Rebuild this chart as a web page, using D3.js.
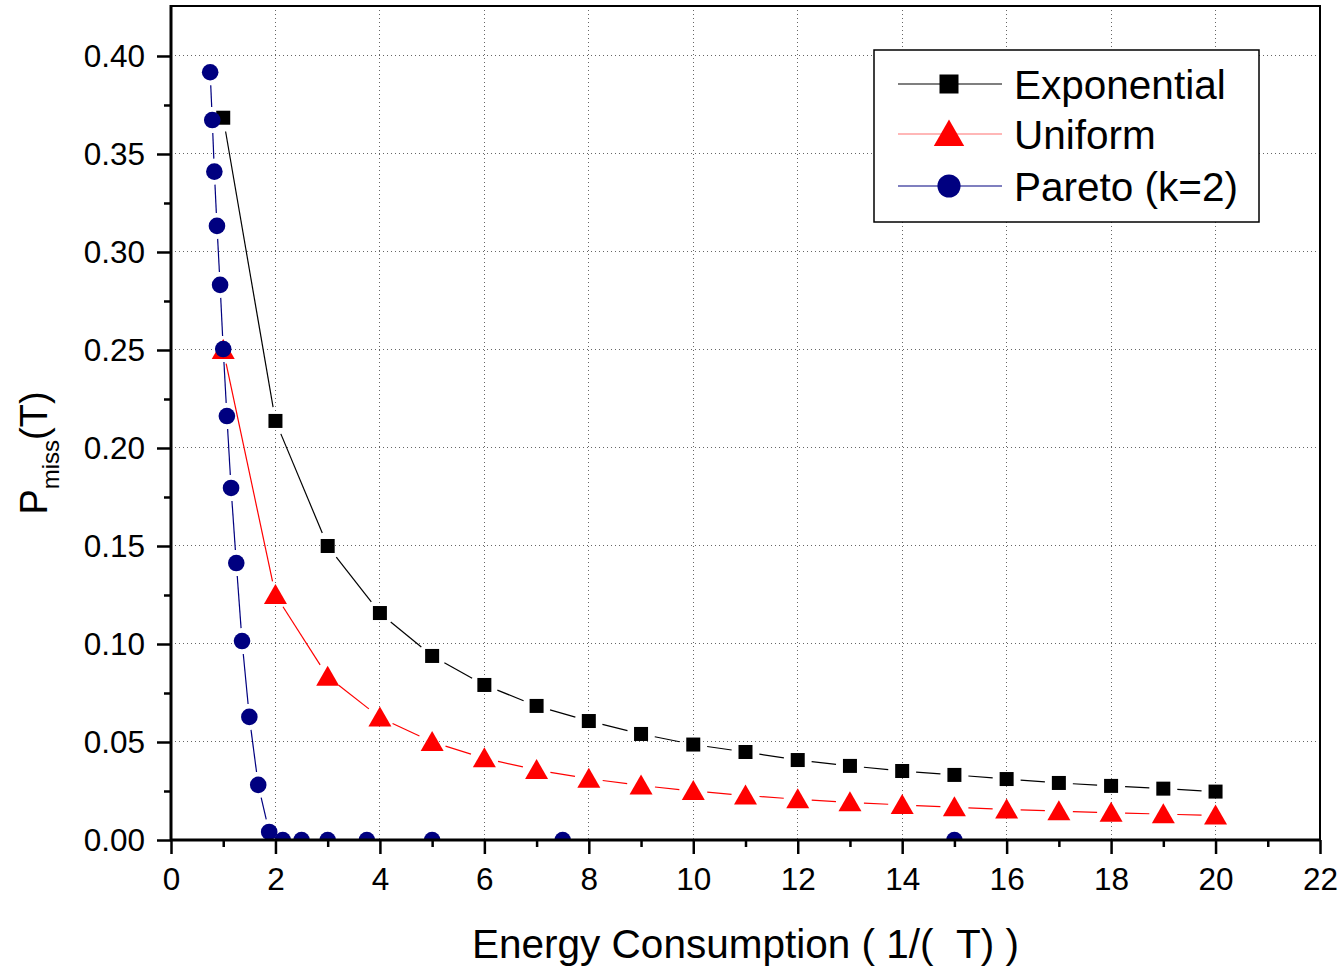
<!DOCTYPE html>
<html>
<head>
<meta charset="utf-8">
<script src="https://cdn.jsdelivr.net/npm/d3@7"></script>
<style>
  html, body { margin: 0; padding: 0; background: #fff; }
  svg { display: block; }
  text { font-family: "Liberation Sans", Arial, sans-serif; fill: #000; }
</style>
</head>
<body>
<script>
// ---------------- data ----------------
const expX = [1, 2, 3, 4, 5, 6, 7, 8, 9, 10, 11, 12, 13, 14, 15, 16, 17, 18, 19, 20];
const expY = [0.3685, 0.2138, 0.150, 0.1158, 0.0939, 0.0791, 0.0684, 0.0607, 0.0541, 0.0487,
              0.0449, 0.0408, 0.0378, 0.0352, 0.0332, 0.0311, 0.0291, 0.0276, 0.0262, 0.0247];
const uniX = [1, 2, 3, 4, 5, 6, 7, 8, 9, 10, 11, 12, 13, 14, 15, 16, 17, 18, 19, 20];
const uniY = [0.250, 0.125, 0.0833, 0.0625, 0.050, 0.0417, 0.0357, 0.0313, 0.0278, 0.025,
              0.0227, 0.0208, 0.0192, 0.0179, 0.0167, 0.0156, 0.0147, 0.0139, 0.0132, 0.0125];
const parX = [0.75, 0.79, 0.83, 0.88, 0.94, 1.0, 1.07, 1.15, 1.25, 1.36, 1.5, 1.67, 1.88,
              2.14, 2.5, 3.0, 3.75, 5.0, 7.5, 15.0];
const parY = [0.3917, 0.3673, 0.341, 0.3133, 0.2832, 0.2505, 0.2163, 0.1796, 0.1413, 0.1015,
              0.0628, 0.0281, 0.0041, 0, 0, 0, 0, 0, 0, 0];
const seriesNames = ["Exponential", "Uniform", "Pareto (k=2)"];
const xMajorTicks = [0, 2, 4, 6, 8, 10, 12, 14, 16, 18, 20, 22];
const xMinorTicks = [1, 3, 5, 7, 9, 11, 13, 15, 17, 19, 21];
const yMajorTicks = [0, 0.05, 0.10, 0.15, 0.20, 0.25, 0.30, 0.35, 0.40];
const yMinorTicks = [0.025, 0.075, 0.125, 0.175, 0.225, 0.275, 0.325, 0.375];
const xTitle = "Energy Consumption ( 1/(\u00a0\u00a0T) )";

// ---------------- layout ----------------
const W = 1343, H = 969;
const L = 171, R = 1320, T = 6, B = 840;
const svg = d3.select("body").append("svg").attr("width", W).attr("height", H);

const x = d3.scaleLinear().domain([0, 22]).range([L, R]);
const y = d3.scaleLinear().domain([0, 0.4255]).range([B, T]);

svg.append("defs").append("clipPath").attr("id", "plotclip")
  .append("rect").attr("x", L).attr("y", T).attr("width", R - L).attr("height", B - T);

// grid
const grid = svg.append("g");
xMajorTicks.filter(v => v > 0 && v < 22).forEach(v => {
  grid.append("line").attr("x1", x(v)).attr("x2", x(v)).attr("y1", T).attr("y2", B)
    .attr("stroke", "#666").attr("stroke-width", 1).attr("stroke-dasharray", "1,3")
    .attr("shape-rendering", "crispEdges");
});
yMajorTicks.filter(v => v > 0).forEach(v => {
  grid.append("line").attr("x1", L).attr("x2", R).attr("y1", y(v)).attr("y2", y(v))
    .attr("stroke", "#666").attr("stroke-width", 1).attr("stroke-dasharray", "1,3")
    .attr("shape-rendering", "crispEdges");
});

// series
const plot = svg.append("g").attr("clip-path", "url(#plotclip)");

function drawSeries(xs, ys, color, gap) {
  const pts = xs.map((v, i) => [x(v), y(ys[i])]);
  for (let i = 0; i < pts.length - 1; i++) {
    const [x1, y1] = pts[i], [x2, y2] = pts[i + 1];
    const dx = x2 - x1, dy = y2 - y1, d = Math.hypot(dx, dy);
    if (d <= 2 * gap) continue;
    const ux = dx / d, uy = dy / d;
    plot.append("line")
      .attr("x1", x1 + ux * gap).attr("y1", y1 + uy * gap)
      .attr("x2", x2 - ux * gap).attr("y2", y2 - uy * gap)
      .attr("stroke", color).attr("stroke-width", 1.2);
  }
  return pts;
}

function square(g, cx, cy, s) {
  g.append("rect").attr("x", cx - s / 2).attr("y", cy - s / 2).attr("width", s).attr("height", s)
    .attr("fill", "#000");
}
function triangle(g, cx, cy, s) {
  const w = s * 23 / 14, h = s * 20 / 14;
  g.append("path").attr("d", `M${cx},${cy - h * 0.55} L${cx + w / 2},${cy + h * 0.45} L${cx - w / 2},${cy + h * 0.45} Z`)
    .attr("fill", "#ff0000");
}
function circle(g, cx, cy, s) {
  g.append("circle").attr("cx", cx).attr("cy", cy).attr("r", s * 8.3 / 14).attr("fill", "#000080");
}

const pExp = drawSeries(expX, expY, "#000", 14);
const pUni = drawSeries(uniX, uniY, "#ff0000", 14);
const pPar = drawSeries(parX, parY, "#000080", 13);
pExp.forEach(p => square(plot, p[0], p[1], 14));
pUni.forEach(p => triangle(plot, p[0], p[1], 14));
pPar.forEach(p => circle(plot, p[0], p[1], 14));

// axes
const fmtY = d3.format(".2f");
const xAxis = svg.append("g").attr("transform", `translate(0,${B})`)
  .call(d3.axisBottom(x).tickValues(xMajorTicks).tickSize(14).tickPadding(14).tickFormat(d3.format("d")));
const xAxisMinor = svg.append("g").attr("transform", `translate(0,${B})`)
  .call(d3.axisBottom(x).tickValues(xMinorTicks).tickSize(7).tickFormat(""));
const yAxis = svg.append("g").attr("transform", `translate(${L},0)`)
  .call(d3.axisLeft(y).tickValues(yMajorTicks).tickSize(14).tickPadding(12).tickFormat(fmtY));
const yAxisMinor = svg.append("g").attr("transform", `translate(${L},0)`)
  .call(d3.axisLeft(y).tickValues(yMinorTicks).tickSize(7).tickFormat(""));

[xAxis, xAxisMinor, yAxis, yAxisMinor].forEach(a => {
  a.select(".domain").remove();
  a.selectAll(".tick line").attr("stroke", "#000").attr("stroke-width", 2.5);
  a.selectAll(".tick text").attr("font-family", "Liberation Sans, Arial, sans-serif")
    .attr("font-size", 31.5).attr("fill", "#000");
});

// frame
svg.append("rect").attr("x", L).attr("y", T).attr("width", R - L).attr("height", B - T)
  .attr("fill", "none").attr("stroke", "#000").attr("stroke-width", 2);
svg.append("line").attr("x1", L).attr("x2", L).attr("y1", T - 1).attr("y2", B + 1)
  .attr("stroke", "#000").attr("stroke-width", 3);
svg.append("line").attr("x1", L - 1).attr("x2", R + 1).attr("y1", B).attr("y2", B)
  .attr("stroke", "#000").attr("stroke-width", 3);

// legend
const lg = svg.append("g");
lg.append("rect").attr("x", 874).attr("y", 50).attr("width", 385).attr("height", 172)
  .attr("fill", "#fff").attr("stroke", "#000").attr("stroke-width", 1.5);
const legendItems = [
  { name: seriesNames[0], lineColor: "#000", mk: square, cy: 84, s: 19 },
  { name: seriesNames[1], lineColor: "#ff7070", mk: triangle, cy: 134, s: 18.5 },
  { name: seriesNames[2], lineColor: "#000080", mk: circle, cy: 186, s: 19.5 }
];
legendItems.forEach(it => {
  lg.append("line").attr("x1", 898).attr("x2", 1002).attr("y1", it.cy).attr("y2", it.cy)
    .attr("stroke", it.lineColor).attr("stroke-width", 1.2);
  it.mk(lg, 949, it.cy, it.s);
  lg.append("text").attr("x", 1014).attr("y", it.cy + 15).attr("font-size", 40.5).text(it.name);
});

// axis titles
svg.append("text").attr("x", (L + R) / 2).attr("y", 958).attr("text-anchor", "middle")
  .attr("font-size", 40.5).style("white-space", "pre").text(xTitle);

const yt = svg.append("text").attr("transform", `translate(47,453) rotate(-90)`)
  .attr("text-anchor", "middle").attr("font-size", 38);
yt.append("tspan").text("P");
yt.append("tspan").attr("font-size", 24).attr("dy", 12).text("miss");
yt.append("tspan").attr("dy", -12).text("(T)");
</script>
</body>
</html>
